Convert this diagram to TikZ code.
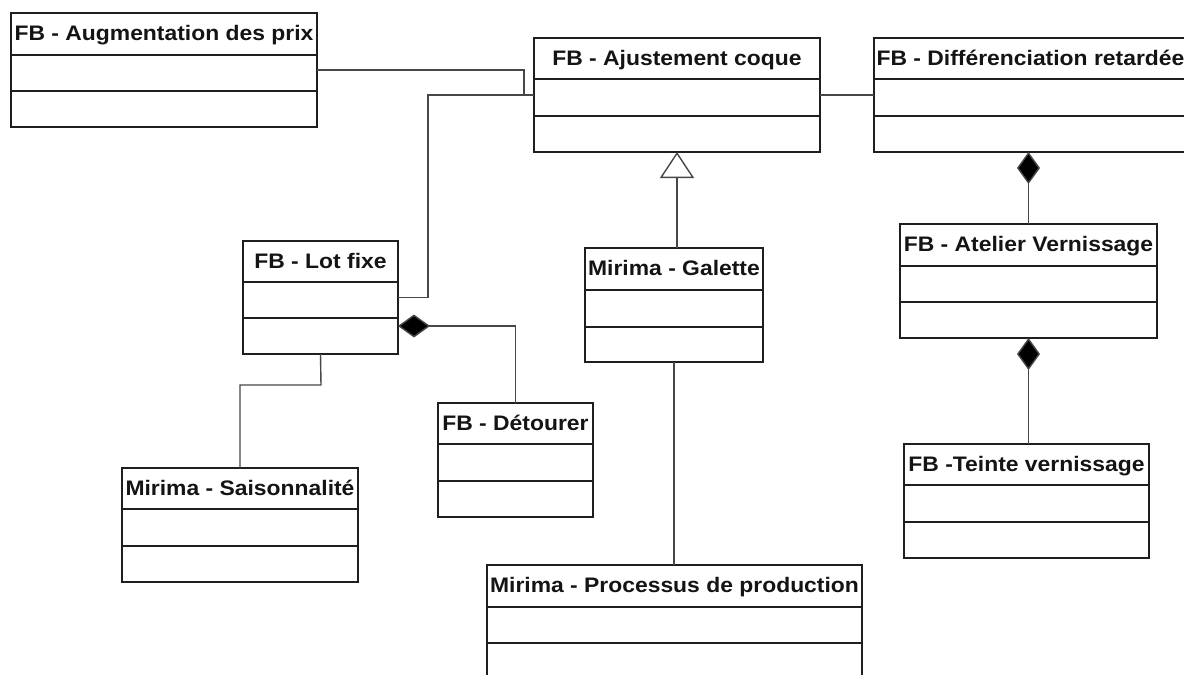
\documentclass[tikz,border=0pt]{standalone}
\usepackage{fontspec}
\newfontfamily\clsfont{Liberation Sans}[FakeStretch=1.09]
\usetikzlibrary{arrows.meta}
\tikzset{
  cls/.style={draw=black!88, line width=1.9pt, fill=white, rectangle, inner sep=0pt, outer sep=0pt},
  divline/.style={draw=black!88, line width=1.9pt},
  clstitle/.style={font=\clsfont\bfseries\fontsize{21}{25}\selectfont, inner sep=0pt, anchor=base, text=black!92},
  conn/.style={draw=black!72, line width=1.4pt, line join=miter},
  comp/.style={{Diamond[length=32pt,width=23pt,fill=black]}-},
  gen/.style={{Triangle[open,length=26pt,width=34pt,fill=white]}-}
}
\newcommand\umlcls[8]{%
  \node[cls, minimum width={(#4-#2)*1pt}, minimum height={(#5-#3)*1pt}] (#1) at ({(#2+#4)/2},{(#3+#5)/2}) {};
  \draw[divline] (#2,#6) -- (#4,#6) (#2,#7) -- (#4,#7);
  \node[clstitle] (#1-title) at ({(#2+#4)/2},{#3+27.5}) {#8};
}
\begin{document}
\begin{tikzpicture}[x=1pt,y=-1pt]
\useasboundingbox (0,0) rectangle (1184,675);
\clip (0,0) rectangle (1184,675);
\fill[white] (0,0) rectangle (1184,675);
% name, left, top, right, bottom, div1, div2, title
\umlcls{aug}{11}{13}{317}{127}{55}{91}{FB - Augmentation des prix}
\umlcls{aju}{534}{38}{820}{152}{79}{116}{FB - Ajustement coque}
\umlcls{dif}{874}{38}{1187}{152}{79}{116}{FB - Différenciation retardée}
\umlcls{lot}{243}{241}{398}{354}{282}{318}{FB - Lot fixe}
\umlcls{gal}{585}{248}{763}{362}{290}{327}{Mirima - Galette}
\umlcls{ate}{900}{224}{1157}{338}{266}{302}{FB - Atelier Vernissage}
\umlcls{det}{438}{403}{593}{517}{444}{481}{FB - Détourer}
\umlcls{sai}{122}{468}{358}{582}{509}{546}{Mirima - Saisonnalité}
\umlcls{tei}{904}{444}{1149}{558}{485}{522}{FB -Teinte vernissage}
\umlcls{pro}{487}{565}{862}{681}{607}{643}{Mirima - Processus de production}
% junction points
\coordinate (j1) at (524,95);
\coordinate (j2) at (428,95);
\coordinate (j4) at (321,385);
% connectors
\draw[conn] (aug.east) -| (j1) -- (aju.west);
\draw[conn] (lot.east) -| (j2) -- (aju.west);
\draw[conn] (aju.east) -- (dif.west);
\draw[conn, gen] (aju.south) -- (aju.south |- gal.north);
\draw[conn] (gal.south) -- (gal.south |- pro.north);
\draw[conn, comp] ([yshift=-28.5pt]lot.east) -| (det.north);
\draw[conn] (lot.south) -- (j4) -| (sai.north);
\draw[conn, comp] (dif.south -| ate.north) -- (ate.north);
\draw[conn, comp] (ate.south) -- (ate.south |- tei.north);
\end{tikzpicture}
\end{document}
